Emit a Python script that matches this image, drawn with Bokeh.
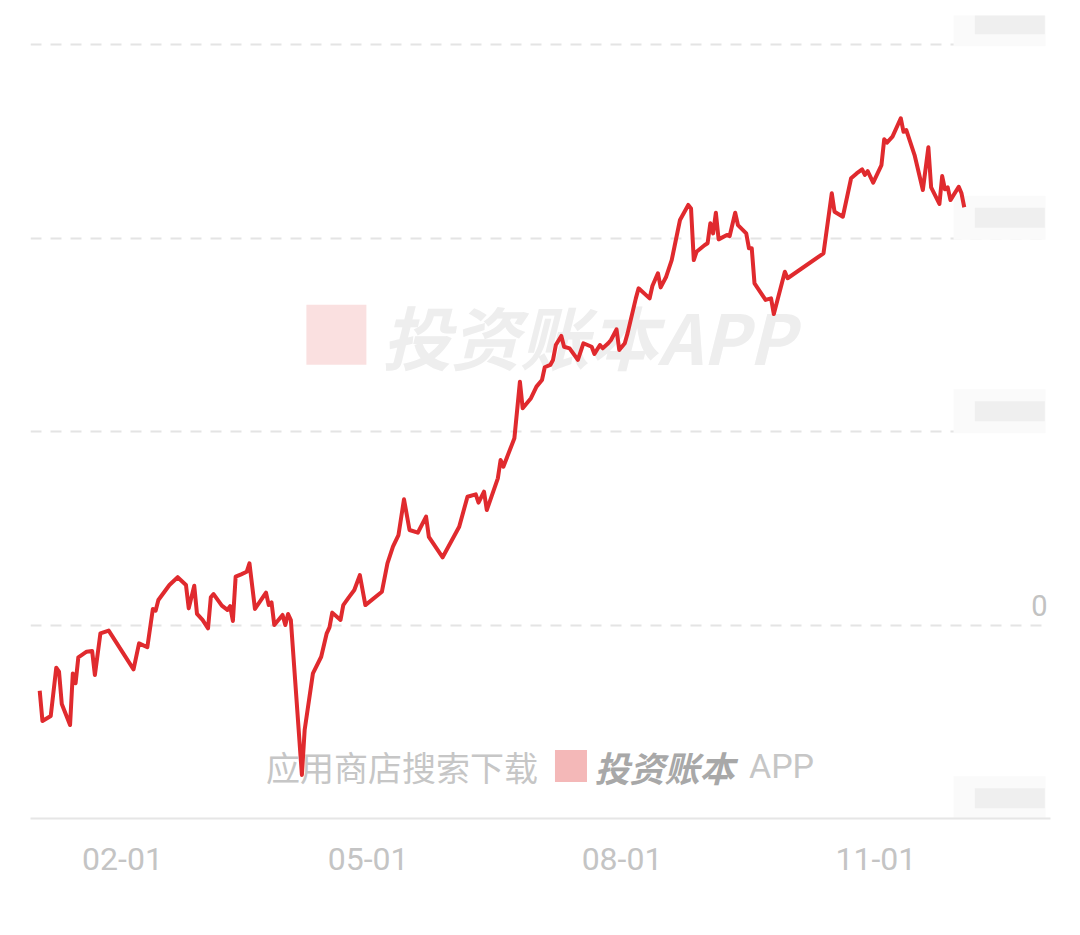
import pandas as pd
from datetime import datetime
from bokeh.plotting import figure
from bokeh.models import Range1d, FixedTicker, DatetimeTickFormatter, ColumnDataSource
from bokeh.core.properties import value
from bokeh.embed import file_html
from bokeh.resources import INLINE

# ---------------- data ----------------
dates = [
    "2025-01-02", "2025-01-03", "2025-01-06", "2025-01-08", "2025-01-09", "2025-01-10",
    "2025-01-13", "2025-01-14", "2025-01-15", "2025-01-16", "2025-01-19", "2025-01-21",
    "2025-01-22", "2025-01-24", "2025-01-27", "2025-02-05", "2025-02-07", "2025-02-10",
    "2025-02-12", "2025-02-13", "2025-02-14", "2025-02-18", "2025-02-21", "2025-02-24",
    "2025-02-25", "2025-02-27", "2025-02-28", "2025-03-02", "2025-03-04", "2025-03-05",
    "2025-03-06", "2025-03-09", "2025-03-11", "2025-03-12", "2025-03-13", "2025-03-14",
    "2025-03-16", "2025-03-18", "2025-03-19", "2025-03-21", "2025-03-25", "2025-03-26",
    "2025-03-27", "2025-03-28", "2025-03-31", "2025-04-01", "2025-04-02", "2025-04-03",
    "2025-04-07", "2025-04-08", "2025-04-11", "2025-04-14", "2025-04-16", "2025-04-17",
    "2025-04-18", "2025-04-21", "2025-04-22", "2025-04-24", "2025-04-26", "2025-04-28",
    "2025-04-30", "2025-05-06", "2025-05-08", "2025-05-10", "2025-05-12", "2025-05-14",
    "2025-05-16", "2025-05-19", "2025-05-22", "2025-05-23", "2025-05-28", "2025-06-03",
    "2025-06-06", "2025-06-09", "2025-06-10", "2025-06-12", "2025-06-13", "2025-06-17",
    "2025-06-18", "2025-06-19", "2025-06-23", "2025-06-25", "2025-06-26", "2025-06-29",
    "2025-07-01", "2025-07-03", "2025-07-04", "2025-07-06", "2025-07-07", "2025-07-08",
    "2025-07-10", "2025-07-11", "2025-07-13", "2025-07-16", "2025-07-18", "2025-07-21",
    "2025-07-22", "2025-07-24", "2025-07-25", "2025-07-27", "2025-07-28", "2025-07-30",
    "2025-07-31", "2025-08-02", "2025-08-03", "2025-08-06", "2025-08-07", "2025-08-11",
    "2025-08-12", "2025-08-14", "2025-08-15", "2025-08-17", "2025-08-19", "2025-08-20",
    "2025-08-22", "2025-08-25", "2025-08-26", "2025-08-27", "2025-08-28", "2025-08-31",
    "2025-09-01", "2025-09-02", "2025-09-03", "2025-09-04", "2025-09-05", "2025-09-08",
    "2025-09-09", "2025-09-11", "2025-09-12", "2025-09-15", "2025-09-16", "2025-09-17",
    "2025-09-18", "2025-09-22", "2025-09-24", "2025-09-25", "2025-09-29", "2025-09-30",
    "2025-10-13", "2025-10-16", "2025-10-17", "2025-10-20", "2025-10-23", "2025-10-25",
    "2025-10-27", "2025-10-28", "2025-10-29", "2025-10-31", "2025-11-03", "2025-11-04",
    "2025-11-05", "2025-11-07", "2025-11-10", "2025-11-11", "2025-11-12", "2025-11-15",
    "2025-11-18", "2025-11-20", "2025-11-21", "2025-11-24", "2025-11-25", "2025-11-26",
    "2025-11-27", "2025-11-28", "2025-12-01", "2025-12-02", "2025-12-03",
]
values = [
    -3.40, -4.96, -4.70, -2.21, -2.41, -4.08,
    -5.17, -2.50, -3.01, -1.67, -1.38, -1.34,
    -2.58, -0.43, -0.29, -2.29, -0.95, -1.15,
    0.83, 0.74, 1.29, 2.07, 2.47, 2.07,
    0.86, 2.03, 0.57, 0.26, -0.17, 1.43,
    1.60, 1.00, 0.78, 0.98, 0.21, 2.50,
    2.62, 2.75, 3.19, 0.83, 1.67, 1.03,
    1.17, 0.00, 0.52, 0.00, 0.57, 0.26,
    -7.75, -5.43, -2.50, -1.64, -0.43, -0.12,
    0.64, 0.26, 1.03, 1.43, 1.81, 2.58,
    1.03, 1.72, 3.19, 4.05, 4.65, 6.50,
    4.91, 4.77, 5.60, 4.56, 3.50, 5.08,
    6.63, 6.75, 6.32, 6.89, 5.94, 7.58,
    8.53, 8.18, 9.65, 12.57, 11.20, 11.72,
    12.32, 12.66, 13.32, 13.44, 13.70, 14.47,
    14.94, 14.38, 14.30, 13.70, 14.56, 14.38,
    14.01, 14.47, 14.30, 14.56, 14.73, 15.28,
    14.21, 14.56, 15.07, 16.88, 17.40, 16.88,
    17.52, 18.18, 17.45, 18.00, 18.86, 19.55,
    20.93, 21.71, 21.53, 18.86, 19.29, 19.64,
    19.73, 20.76, 20.24, 21.31, 19.93, 20.16,
    20.10, 21.31, 20.67, 20.24, 19.47, 19.47,
    17.66, 16.80, 16.88, 16.07, 18.26, 17.92,
    19.21, 22.31, 21.36, 21.10, 23.09, 23.34,
    23.55, 23.26, 23.46, 22.86, 23.77, 25.10,
    24.93, 25.24, 26.19, 25.49, 25.58, 24.29,
    22.48, 24.69, 22.62, 21.76, 23.20, 22.52,
    22.62, 21.96, 22.65, 22.31, 21.59,
]

x_tick_dates = ["2025-02-01", "2025-05-01", "2025-08-01", "2025-11-01"]
grid_values = [0, 10, 20, 30]
blurred_label_values = [30, 20, 10, -10]   # these labels are blurred out in the reference
zero_label_value = [0]
zero_label_text = ["0"]

watermark_big = "投资账本APP"
watermark_hint = "应用商店搜索下载"
watermark_brand = "投资账本"
watermark_app = "APP"

# ---------------- figure ----------------
x = pd.to_datetime(dates)

p = figure(
    width=1072, height=927,
    x_axis_type="datetime",
    output_backend="svg", toolbar_location=None,
    x_range=Range1d(datetime(2024, 12, 29, 16), datetime(2026, 1, 3, 6)),
    y_range=Range1d(-10, 31.5),
    min_border_left=30, min_border_right=22, min_border_top=15, min_border_bottom=109,
)
p.outline_line_color = None
p.background_fill_color = "white"
p.border_fill_color = "white"

p.xgrid.visible = False
p.ygrid.ticker = FixedTicker(ticks=grid_values)
p.ygrid.grid_line_color = "#e4e4e4"
p.ygrid.grid_line_width = 2
p.ygrid.grid_line_dash = "11 9"
p.yaxis.visible = False

tick_ms = [int(t.value // 10**6) for t in pd.to_datetime(x_tick_dates)]
p.xaxis.ticker = FixedTicker(ticks=tick_ms)
fmt = "%m-%d"
p.xaxis.formatter = DatetimeTickFormatter(
    milliseconds=fmt, seconds=fmt, minsec=fmt, minutes=fmt, hourmin=fmt,
    hours=fmt, days=fmt, months=fmt, years=fmt,
)
p.xaxis.axis_line_color = "#e6e6e6"
p.xaxis.axis_line_width = 2
p.xaxis.major_tick_line_color = None
p.xaxis.minor_tick_line_color = None
p.xaxis.major_label_text_font = "Roboto"
p.xaxis.major_label_text_font_size = "32px"
p.xaxis.major_label_text_color = "#c4c4c4"
p.xaxis.major_label_standoff = 23

# ---------------- blurred right-hand labels ----------------
blur_src = ColumnDataSource(dict(x=[datetime(2025, 12, 15, 19)] * len(blurred_label_values),
                                 y=[v + 1.05 for v in blurred_label_values]))
p.rect(x="x", y="y", width=92, height=44, width_units="screen", height_units="screen",
       source=blur_src, fill_color="#fafafa", line_color=None)
blur_src2 = ColumnDataSource(dict(x=[datetime(2025, 12, 19, 12)] * len(blurred_label_values),
                                  y=[v + 1.05 for v in blurred_label_values]))
p.rect(x="x", y="y", width=70, height=20, width_units="screen", height_units="screen",
       source=blur_src2, fill_color="#efefef", line_color=None)

# "0" label, right aligned above its grid line
p.text(x=[datetime(2026, 1, 3, 6)] * len(zero_label_value), y=zero_label_value, text=zero_label_text,
       x_offset=-3, y_offset=-20, text_align="right", text_baseline="alphabetic",
       text_font=value("Roboto"), text_font_size="29px", text_color="#c2c2c2")

# ---------------- watermarks ----------------
p.rect(x=[datetime(2025, 4, 19, 12)], y=[15.0], width=60, height=60,
       width_units="screen", height_units="screen", fill_color="#fae0e0", line_color=None)
p.text(x=[datetime(2025, 5, 6)], y=[15.0], text=[watermark_big],
       text_align="left", text_baseline="middle",
       text_font=value("Noto Sans CJK SC"), text_font_style="bold italic",
       text_font_size="69px", text_color="#eeeeee")

p.text(x=[datetime(2025, 3, 25)], y=[-7.29], text=[watermark_hint],
       text_align="left", text_baseline="middle",
       text_font=value("Noto Sans CJK SC"), text_font_size="34px", text_color="#c6c6c6")
p.rect(x=[datetime(2025, 7, 13, 12)], y=[-7.29], width=32, height=32,
       width_units="screen", height_units="screen", fill_color="#f4b8b8", line_color=None)
p.text(x=[datetime(2025, 7, 22)], y=[-7.29], text=[watermark_brand],
       text_align="left", text_baseline="middle",
       text_font=value("Noto Sans CJK SC"), text_font_style="bold italic",
       text_font_size="35px", text_color="#a8a8a8")
p.text(x=[datetime(2025, 9, 16)], y=[-7.29], text=[watermark_app],
       text_align="left", text_baseline="middle",
       text_font=value("Roboto"), text_font_size="34px", text_color="#c6c6c6")

# ---------------- line ----------------
p.line(x, values, line_color="#e02a2e", line_width=4, line_join="round")

open("out.html", "w").write(file_html(p, INLINE))
